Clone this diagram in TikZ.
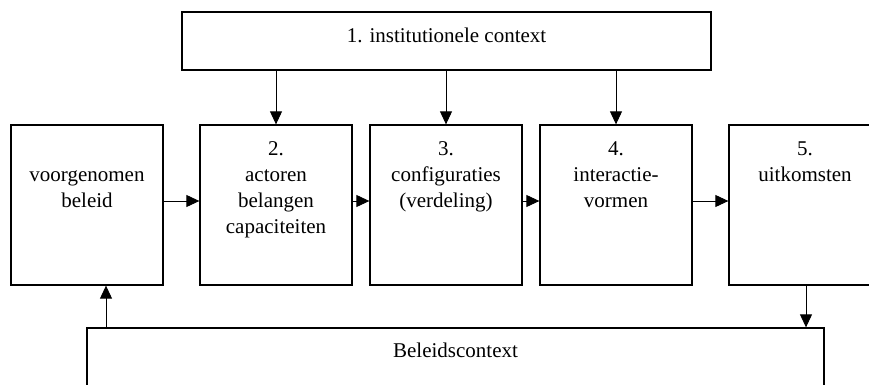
\documentclass[tikz,border=0pt]{standalone}
\usepackage{fontspec}
\setmainfont{Liberation Serif}
\usetikzlibrary{arrows.meta}
\begin{document}
\begin{tikzpicture}[x=1pt,y=-1pt,
  box/.style={draw,line width=1.3pt,minimum width=152pt,minimum height=160pt,inner sep=0pt},
  txt/.style={font=\fontsize{21}{26}\selectfont,align=center,inner sep=0pt,anchor=north},
  arr/.style={line width=0.9pt,-{Triangle[length=13pt,width=12pt]}}]
\useasboundingbox (0,0) rectangle (869,385);
\node[draw,line width=1.3pt,minimum width=529pt,minimum height=58pt,inner sep=0pt] (inst) at (446.5,41) {};
\node[txt,anchor=base] (instt) at (446.5,43) {1. institutionele context};
\node[box] (A) at (87,205) {};
\node[box] (B) at (276,205) {};
\node[box] (C) at (446,205) {};
\node[box] (D) at (616,205) {};
\node[box] (E) at (805,205) {};
\node[txt] (At) at (87,162.8) {\strut voorgenomen\\beleid};
\node[txt] (Bt) at (276,136.8) {\strut 2.\\actoren\\belangen\\capaciteiten};
\node[txt] (Ct) at (446,136.8) {\strut 3.\\configuraties\\(verdeling)};
\node[txt] (Dt) at (616,136.8) {\strut 4.\\interactie-\\vormen};
\node[txt] (Et) at (805,136.8) {\strut 5.\\uitkomsten};
\node[draw,line width=1.3pt,minimum width=737pt,minimum height=80pt,inner sep=0pt] (ctx) at (455.5,368) {};
\node[txt,anchor=base] (ctxt) at (455.5,357) {Beleidscontext};
\draw[arr] (inst.south -| B.north) -- (B.north);
\draw[arr] (inst.south -| C.north) -- (C.north);
\draw[arr] (inst.south -| D.north) -- (D.north);
\draw[arr] ([yshift=4pt]A.east) -- ([yshift=4pt]B.west);
\draw[arr] ([yshift=4pt]B.east) -- ([yshift=4pt]C.west);
\draw[arr] ([yshift=4pt]C.east) -- ([yshift=4pt]D.west);
\draw[arr] ([yshift=4pt]D.east) -- ([yshift=4pt]E.west);
\coordinate (u) at (106,328);
\coordinate (d) at (806,285);
\draw[arr] (u |- ctx.north) -- (u |- A.south);
\draw[arr] (d |- E.south) -- (d |- ctx.north);
\end{tikzpicture}
\end{document}
